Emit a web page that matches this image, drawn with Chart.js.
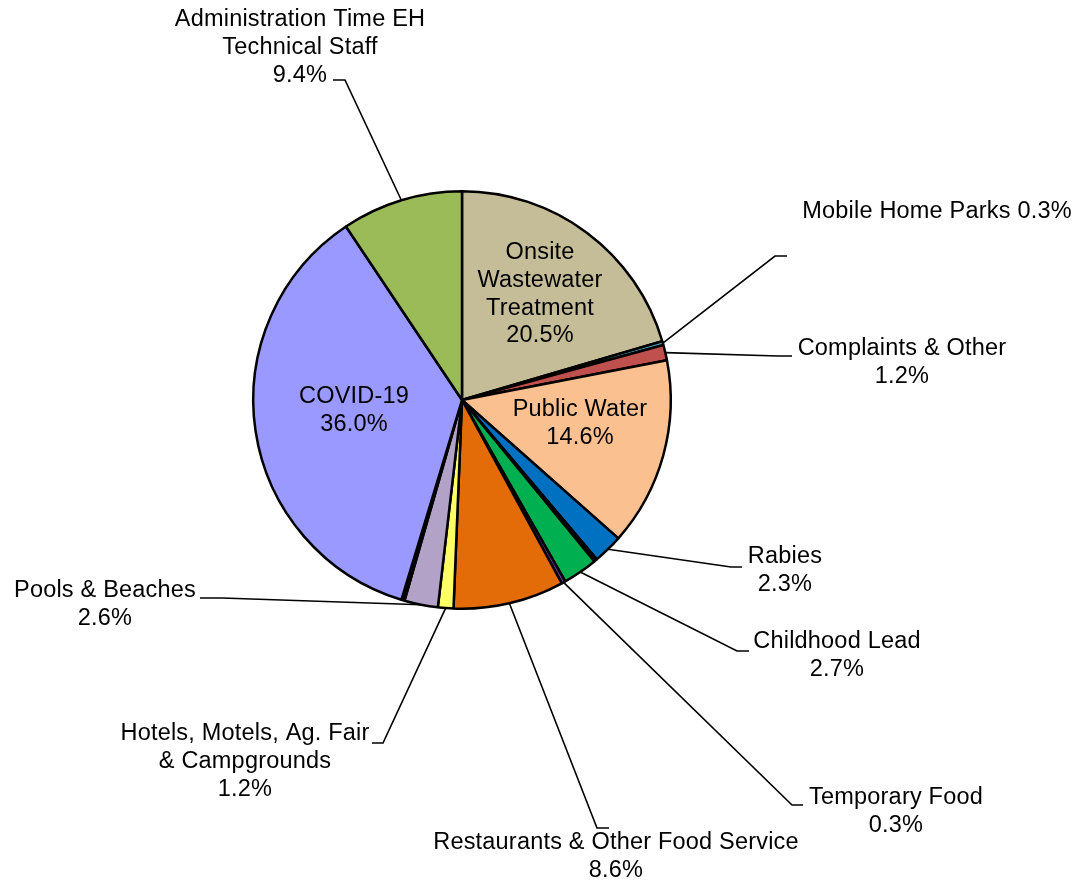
<!DOCTYPE html>
<html>
<head>
<meta charset="utf-8">
<script src="https://cdn.jsdelivr.net/npm/chart.js@4.4.1/dist/chart.umd.min.js"></script>
<style>
  html, body { margin: 0; padding: 0; background: #fff; }
  canvas { display: block; }
</style>
</head>
<body>
<canvas id="pie" width="1087" height="884"></canvas>
<script>
// slices, clockwise from 12 o'clock
const categories = [
    "Onsite Wastewater Treatment",
    "Mobile Home Parks",
    "Complaints & Other",
    "Public Water",
    "Rabies",
    "",
    "Childhood Lead",
    "Temporary Food",
    "Restaurants & Other Food Service",
    "Hotels, Motels, Ag. Fair & Campgrounds",
    "Pools & Beaches",
    "",
    "COVID-19",
    "Administration Time EH Technical Staff",
];
const shares = [20.5, 0.3, 1.2, 14.6, 2.3, 0.25, 2.7, 0.3, 8.6, 1.2, 2.6, 0.25, 36.0, 9.4];
const shareLabels = ["20.5%", "0.3%", "1.2%", "14.6%", "2.3%", "", "2.7%", "0.3%", "8.6%", "1.2%", "2.6%", "", "36.0%", "9.4%"];
const colors = [
    "#C4BD97", "#4BACC6", "#C0504D", "#FAC090", "#0070C0", "#000000", "#00B050",
    "#7030A0", "#E36C09", "#FFFF66", "#B2A2C7", "#000000", "#9999FF", "#9BBB59",
];

// label layout: text lines, centre x, first line y, optional leader path (elbow, end)
const labelLayout = {
    0: { lines: ["Onsite", "Wastewater", "Treatment"], x: 540, y: 253 },
    1: { lines: ["Mobile Home Parks 0.3%"], x: 937, y: 212, pct: false, leader: [[775, 256], [787, 256]] },
    2: { lines: ["Complaints & Other"], x: 902, y: 349, leader: [[778, 356], [792, 356]] },
    3: { lines: ["Public Water"], x: 580, y: 410 },
    4: { lines: ["Rabies"], x: 785, y: 557, leader: [[731, 567], [742, 567]] },
    6: { lines: ["Childhood Lead"], x: 837, y: 642, leader: [[737, 651], [749, 651]] },
    7: { lines: ["Temporary Food"], x: 896, y: 798, leader: [[792, 805], [803, 805]] },
    8: { lines: ["Restaurants & Other Food Service"], x: 616, y: 843, leader: [[597, 828], [609, 828]] },
    9: { lines: ["Hotels, Motels, Ag. Fair", "& Campgrounds"], x: 245, y: 734, leader: [[383, 743], [372, 743]] },
    10: { lines: ["Pools & Beaches"], x: 105, y: 591, leader: [[222, 598], [200, 598]] },
    12: { lines: ["COVID-19"], x: 354, y: 397 },
    13: { lines: ["Administration Time EH", "Technical Staff"], x: 300, y: 20, leader: [[345, 80], [333, 80]] },
};

const lineGap = 27.6;

const pieLabels = {
    id: "pieLabels",
    afterDatasetsDraw(chart) {
        const ctx = chart.ctx;
        const meta = chart.getDatasetMeta(0);
        ctx.save();
        ctx.font = '23.5px "Liberation Sans", Arial, sans-serif';
        if ("letterSpacing" in ctx) ctx.letterSpacing = "0.2px";
        ctx.fillStyle = "#000";
        ctx.strokeStyle = "#000";
        ctx.lineWidth = 1.6;
        ctx.textAlign = "center";
        ctx.textBaseline = "middle";
        Object.keys(labelLayout).forEach(k => {
            const i = Number(k);
            const L = labelLayout[i];
            const arc = meta.data[i];
            if (L.leader) {
                const mid = (arc.startAngle + arc.endAngle) / 2;
                const ax = arc.x + Math.cos(mid) * arc.outerRadius;
                const ay = arc.y + Math.sin(mid) * arc.outerRadius;
                ctx.beginPath();
                ctx.moveTo(ax, ay);
                L.leader.forEach(p => ctx.lineTo(p[0], p[1]));
                ctx.stroke();
            }
            const lines = L.pct === false ? L.lines : L.lines.concat([shareLabels[i]]);
            lines.forEach((t, j) => ctx.fillText(t, L.x, L.y + j * lineGap));
        });
        ctx.restore();
    },
};

new Chart(document.getElementById("pie"), {
    type: "pie",
    data: {
        labels: categories,
        datasets: [{
            data: shares,
            backgroundColor: colors,
            borderColor: "#000",
            borderWidth: 2.5,
        }],
    },
    options: {
        responsive: false,
        animation: false,
        events: [],
        layout: { padding: { left: 252, top: 190, right: 415, bottom: 274 } },
        plugins: {
            legend: { display: false },
            tooltip: { enabled: false },
        },
    },
    plugins: [pieLabels],
});
</script>
</body>
</html>
